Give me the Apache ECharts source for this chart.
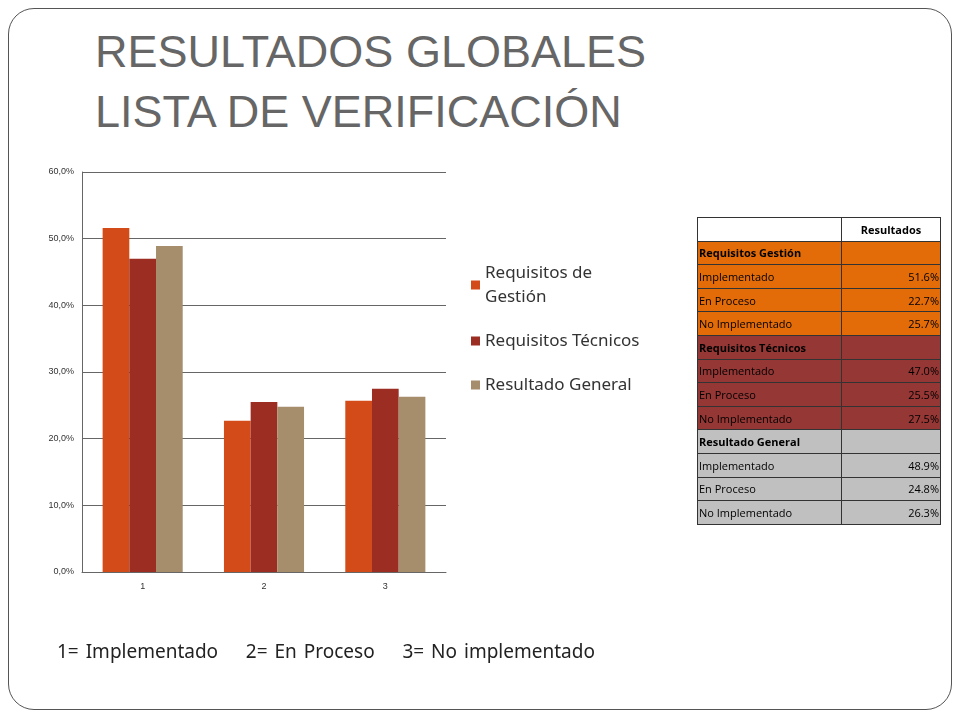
<!DOCTYPE html>
<html><head><meta charset="utf-8">
<script src="https://cdn.jsdelivr.net/npm/echarts@6/dist/echarts.min.js"></script>
<style>
body{margin:0;background:#fff;font-family:"Liberation Sans Narrow","Liberation Sans",sans-serif}
#frame{position:absolute;left:8px;top:8px;width:942px;height:700px;border:1px solid #555;border-radius:26px}
#title{position:absolute;left:95px;top:22px;font-size:45px;line-height:60px;color:#666;font-family:"Liberation Sans Narrow","Liberation Sans",sans-serif}
#main{position:absolute;left:0;top:0;width:960px;height:720px}
#tbl{position:absolute;left:697px;top:217px;border-collapse:collapse;font-family:"Open Sans",sans-serif;font-size:11px}
#tbl td{border:1px solid #333;height:22.6px;padding:0 1px;white-space:nowrap;line-height:11px}
#bottom{position:absolute;left:57px;top:638px;font-size:19px;color:#222;font-family:"Noto Sans",sans-serif;word-spacing:2px}
</style></head><body>
<div id="frame"></div>
<div id="title">RESULTADOS GLOBALES<br>LISTA DE VERIFICACIÓN</div>
<div id="main"></div>
<table id="tbl"></table>
<div id="bottom">1= Implementado&nbsp;&nbsp;&nbsp; 2= En Proceso&nbsp;&nbsp;&nbsp; 3= No implementado</div>
<script>
var categories = ['1', '2', '3'];
var gestion = [51.6, 22.7, 25.7];
var tecnicos = [47.0, 25.5, 27.5];
var general = [48.9, 24.8, 26.3];
var yTicks = [0, 10, 20, 30, 40, 50, 60];
var rowLabels = ['Implementado', 'En Proceso', 'No Implementado'];

var colors = ['#D24B19', '#9B2D22', '#A68D6C'];
var tableColors = ['#E36C09', '#953735', '#C0C0C0'];
var groups = [['Requisitos Gestión', gestion], ['Requisitos Técnicos', tecnicos], ['Resultado General', general]];

var html = '<tr><td style="width:141px"></td><td style="width:96px;text-align:center;font-weight:bold">Resultados</td></tr>';
groups.forEach(function (g, gi) {
  var bg = 'background:' + tableColors[gi];
  html += '<tr style="' + bg + '"><td style="font-weight:bold">' + g[0] + '</td><td></td></tr>';
  g[1].forEach(function (v, i) {
    html += '<tr style="' + bg + '"><td>' + rowLabels[i] + '</td><td style="text-align:right">' + v.toFixed(1) + '%</td></tr>';
  });
});
document.getElementById('tbl').innerHTML = html;

var chart = echarts.init(document.getElementById('main'));
var legendNames = {'Requisitos de Gestión': 'Requisitos de\nGestión'};
function bar(name, data, c) {
  return {name: name, type: 'bar', data: data, itemStyle: {color: c}, barGap: '0%', barCategoryGap: '34%'};
}
chart.setOption({
  animation: false,
  grid: {left: 82, right: 514, top: 172, bottom: 148},
  legend: {
    orient: 'vertical', left: 466, top: 256, itemWidth: 9, itemHeight: 9, itemGap: 20,
    icon: 'rect',
    formatter: function (n) { return legendNames[n] || n; },
    textStyle: {fontSize: 17, color: '#333', fontFamily: 'Noto Sans', lineHeight: 24}
  },
  xAxis: {
    type: 'category', data: categories,
    axisLine: {lineStyle: {color: '#666'}}, axisTick: {show: false},
    axisLabel: {fontSize: 9, color: '#333', margin: 10}
  },
  yAxis: {
    type: 'value', min: yTicks[0], max: yTicks[yTicks.length - 1], interval: 10,
    axisLine: {show: true, lineStyle: {color: '#666'}},
    axisTick: {show: true, length: 0},
    splitLine: {lineStyle: {color: '#666'}},
    axisLabel: {fontSize: 9, color: '#333', formatter: function (v) { return v.toFixed(1).replace('.', ',') + '%'; }}
  },
  series: [
    bar('Requisitos de Gestión', gestion, colors[0]),
    bar('Requisitos Técnicos', tecnicos, colors[1]),
    bar('Resultado General', general, colors[2])
  ]
});
</script>
</body></html>
